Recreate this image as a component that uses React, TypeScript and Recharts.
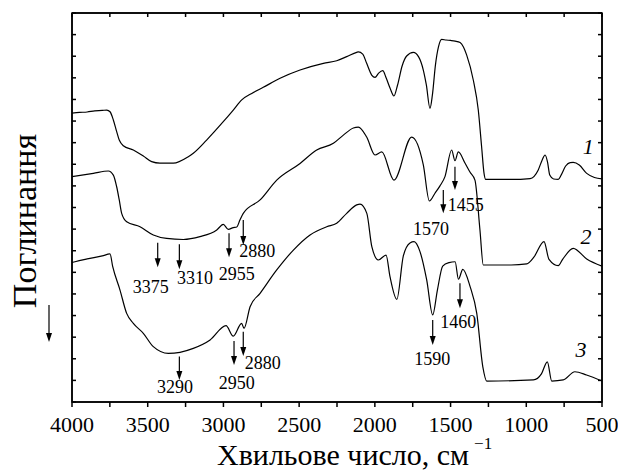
import React from 'react';
import { LineChart, Line, XAxis, YAxis, ReferenceLine, ReferenceDot } from 'recharts';

const FONT = 'Liberation Serif, Times New Roman, serif';

// Spectrum 1 (top)
const s1Wn = [4000, 3950, 3900, 3850, 3800, 3770, 3749, 3727, 3705, 3688, 3661, 3595, 3529, 3474, 3419, 3331, 3232, 3199, 3111, 3001, 2935, 2879, 2813, 2737, 2626, 2494, 2340, 2252, 2186, 2120, 2109, 2080, 2054, 2021, 1999, 1975, 1948, 1925, 1900, 1874, 1850, 1820, 1790, 1746, 1710, 1680, 1660, 1636, 1620, 1600, 1580, 1559, 1530, 1500, 1470, 1437, 1415, 1394, 1350, 1317, 1295, 1279, 1268, 1100, 975, 921, 895, 876, 860, 845, 820, 789, 770, 740, 710, 690, 650, 601, 550, 500];
const s1Val = [13.37, 13.40, 13.42, 13.47, 13.49, 13.51, 13.43, 13.05, 12.51, 12.12, 11.86, 11.66, 11.38, 11.12, 11.05, 11.05, 11.35, 11.51, 12.12, 12.97, 13.51, 13.98, 14.28, 14.56, 14.98, 15.36, 15.67, 15.79, 15.98, 16.18, 16.20, 16.10, 15.67, 15.13, 15.02, 15.22, 15.33, 14.99, 14.53, 14.16, 14.67, 15.55, 16.01, 16.18, 15.96, 15.36, 14.67, 13.59, 14.21, 15.59, 16.43, 16.78, 16.75, 16.73, 16.70, 16.63, 16.43, 16.06, 14.90, 13.51, 11.81, 10.58, 10.30, 10.30, 10.34, 10.74, 11.20, 11.43, 11.11, 10.50, 10.32, 10.30, 10.50, 10.92, 11.08, 11.09, 10.97, 10.58, 10.39, 10.32];

// Spectrum 2 (middle)
const s2Wn = [4000, 3859, 3760, 3727, 3705, 3688, 3672, 3639, 3551, 3463, 3375, 3265, 3155, 3044, 3001, 2968, 2935, 2912, 2891, 2869, 2758, 2648, 2494, 2384, 2274, 2208, 2142, 2109, 2054, 1999, 1954, 1874, 1757, 1680, 1640, 1603, 1570, 1537, 1493, 1471, 1449, 1405, 1372, 1339, 1306, 1284, 1100, 997, 950, 883, 850, 789, 760, 690, 601, 500];
const s2Val = [10.43, 10.58, 10.69, 10.50, 9.96, 9.35, 8.73, 8.34, 8.11, 7.73, 7.57, 7.52, 7.65, 7.96, 8.22, 7.99, 8.07, 8.10, 8.42, 8.73, 9.35, 10.27, 11.04, 11.66, 11.97, 12.35, 12.68, 12.72, 12.26, 11.43, 11.57, 10.27, 12.26, 10.97, 9.30, 9.66, 10.00, 10.43, 11.66, 11.17, 11.57, 11.06, 10.64, 10.27, 7.96, 6.34, 6.34, 6.39, 6.70, 7.42, 6.60, 6.31, 6.60, 7.11, 6.62, 6.29];

// Spectrum 3 (bottom)
const s3Wn = [4000, 3980, 3900, 3800, 3749, 3731, 3683, 3639, 3595, 3529, 3463, 3364, 3287, 3199, 3088, 2983, 2935, 2880, 2864, 2824, 2758, 2648, 2538, 2428, 2318, 2252, 2186, 2120, 2098, 2053, 2020, 1977, 1926, 1900, 1855, 1812, 1768, 1741, 1702, 1658, 1618, 1587, 1552, 1510, 1470, 1448, 1419, 1371, 1327, 1287, 1261, 953, 900, 861, 832, 756, 679, 602, 500];
const s3Val = [6.45, 6.49, 6.62, 6.76, 6.85, 6.26, 5.18, 4.10, 3.64, 3.18, 2.56, 2.25, 2.30, 2.48, 2.87, 3.53, 3.05, 3.64, 3.41, 4.41, 5.03, 6.11, 7.03, 7.73, 8.11, 8.27, 8.73, 9.12, 9.16, 8.73, 7.19, 6.57, 6.80, 5.80, 4.75, 6.76, 7.36, 7.42, 6.96, 5.66, 4.03, 5.18, 6.29, 6.45, 6.49, 5.68, 6.14, 5.34, 4.10, 1.63, 0.97, 1.02, 1.30, 1.86, 0.97, 1.02, 1.40, 1.25, 0.97];

// Peak annotations (arrows + numbers)
const arrowWn = [3434, 3291, 2963, 2869, 3291, 2930, 2869, 1438, 1618, 1471, 1548];
const arrowFrom = [7.37, 7.30, 7.81, 8.42, 2.10, 2.82, 3.25, 5.49, 3.79, 10.89, 9.81];
const arrowTo = [6.23, 6.14, 6.70, 7.26, 1.02, 1.71, 2.13, 4.34, 2.64, 9.81, 8.73];
const annText = ['3375', '3310', '2955', '2880', '3290', '2950', '2880', '1460', '1590', '1455', '1570'];
const annWn = [3480, 3188, 2912, 2776, 3320, 2912, 2741, 1449, 1621, 1400, 1629];
const annVal = [5.34, 5.72, 5.91, 6.99, 0.71, 0.87, 1.82, 3.72, 1.99, 9.12, 7.99];

// Curve numbers
const curveNames = ['1', '2', '3'];
const curveWn = [590, 606, 639];
const curveVal = [11.81, 7.68, 2.44];

const xTicks = [4000, 3750, 3500, 3250, 3000, 2750, 2500, 2250, 2000, 1750, 1500, 1250, 1000, 750, 500];
const yTicks = Array.from({ length: 19 }, (_, i) => i);

// Layout constants
const CHART_W = 618;
const CHART_H = 471;
const MARGIN = { top: 8, right: 6, bottom: 0, left: 42 };
const LEFT_W = 30;
const RIGHT_W = 10;
const TOP_H = 5;
const BOTTOM_H = 69;
const PLOT_L = MARGIN.left + LEFT_W;
const PLOT_R = CHART_W - MARGIN.right - RIGHT_W;
const PLOT_T = MARGIN.top + TOP_H;
const PLOT_B = CHART_H - MARGIN.bottom - BOTTOM_H;

const rows = (wn: number[], val: number[]) => wn.map((w, i) => ({ wn: w, v: val[i] }));
const d1 = rows(s1Wn, s1Val);
const d2 = rows(s2Wn, s2Val);
const d3 = rows(s3Wn, s3Val);

const blank = () => '';

const ArrowShape = (p: any) => {
  const { x1, y1, x2, y2 } = p;
  const head = 9;
  const half = 3;
  return (
    <g>
      <line x1={x1} y1={y1} x2={x2} y2={y2 - head + 1} stroke="#000" strokeWidth={1.2} />
      <polygon points={`${x2 - half},${y2 - head} ${x2 + half},${y2 - head} ${x2},${y2}`} fill="#000" />
    </g>
  );
};

const makeText = (txt: string, size: number, italic: boolean) => (p: any) => (
  <text
    x={p.cx}
    y={p.cy}
    textAnchor="middle"
    dominantBaseline="central"
    style={{ fontFamily: FONT, fontSize: size, fontStyle: italic ? 'italic' : 'normal' }}
    fill="#000"
  >
    {txt}
  </text>
);

// Y-axis title, the small "down" arrow, and the plot frame (box around the plot area)
const YLabel = () => (
  <g>
    <rect
      x={PLOT_L}
      y={PLOT_T}
      width={PLOT_R - PLOT_L}
      height={PLOT_B - PLOT_T}
      fill="none"
      stroke="#000"
      strokeWidth={1.5}
    />
    <text
      transform="translate(36,221) rotate(-90)"
      textAnchor="middle"
      style={{ fontFamily: FONT, fontSize: 34 }}
      fill="#000"
    >
      Поглинання
    </text>
    <line x1={49} y1={305} x2={49} y2={334} stroke="#000" strokeWidth={1.2} />
    <polygon points="46,333 52,333 49,342" fill="#000" />
  </g>
);

const XLabel = () => (
  <text x={217} y={465} style={{ fontFamily: FONT, fontSize: 30 }} fill="#000">
    Хвильове число, см
    <tspan dx={5} dy={-16} style={{ fontSize: 17 }}>−1</tspan>
  </text>
);

export default function App() {
  return (
    <div style={{ position: 'absolute', left: 0, top: 0, background: '#fff' }}>
      <LineChart width={CHART_W} height={CHART_H} margin={MARGIN}>
        <XAxis
          dataKey="wn"
          type="number"
          domain={[500, 4000]}
          reversed
          ticks={xTicks}
          interval={0}
          allowDataOverflow
          height={BOTTOM_H}
          tickSize={5}
          tickMargin={9}
          tickFormatter={(v: number) => (v % 500 === 0 ? String(v) : '')}
          tick={{ fontSize: 22, fill: '#000', style: { fontFamily: FONT } }}
          stroke="#000"
          strokeWidth={1.5}
          label={<XLabel />}
        />
        <XAxis
          xAxisId="top"
          orientation="top"
          dataKey="wn"
          type="number"
          domain={[500, 4000]}
          reversed
          ticks={xTicks}
          interval={0}
          allowDataOverflow
          height={TOP_H}
          tickSize={-4}
          tickMargin={0}
          tickFormatter={blank}
          stroke="#000"
          strokeWidth={1.5}
        />
        <YAxis
          type="number"
          domain={[0, 18]}
          ticks={yTicks}
          interval={0}
          allowDataOverflow
          width={LEFT_W}
          tickSize={-4}
          tickMargin={0}
          tickFormatter={blank}
          stroke="#000"
          strokeWidth={1.5}
          label={<YLabel />}
        />
        <YAxis
          yAxisId="right"
          orientation="right"
          type="number"
          domain={[0, 18]}
          ticks={yTicks}
          interval={0}
          allowDataOverflow
          width={RIGHT_W}
          tickSize={-4}
          tickMargin={0}
          tickFormatter={blank}
          stroke="#000"
          strokeWidth={1.5}
        />
        <Line data={d1} dataKey="v" type="monotone" stroke="#000" strokeWidth={1.2} dot={false} isAnimationActive={false} />
        <Line data={d2} dataKey="v" type="monotone" stroke="#000" strokeWidth={1.2} dot={false} isAnimationActive={false} />
        <Line data={d3} dataKey="v" type="monotone" stroke="#000" strokeWidth={1.2} dot={false} isAnimationActive={false} />
        <Line
          data={d1}
          dataKey="v"
          xAxisId="top"
          yAxisId="right"
          stroke="none"
          strokeWidth={0}
          dot={false}
          activeDot={false}
          legendType="none"
          isAnimationActive={false}
        />
        {arrowWn.map((w, i) => (
          <ReferenceLine
            key={'a' + i}
            segment={[{ x: w, y: arrowFrom[i] }, { x: w, y: arrowTo[i] }]}
            shape={ArrowShape}
          />
        ))}
        {annText.map((t, i) => (
          <ReferenceDot key={'t' + i} x={annWn[i]} y={annVal[i]} r={0} shape={makeText(t, 18, false)} />
        ))}
        {curveNames.map((t, i) => (
          <ReferenceDot key={'c' + i} x={curveWn[i]} y={curveVal[i]} r={0} shape={makeText(t, 22, true)} />
        ))}
      </LineChart>
    </div>
  );
}
